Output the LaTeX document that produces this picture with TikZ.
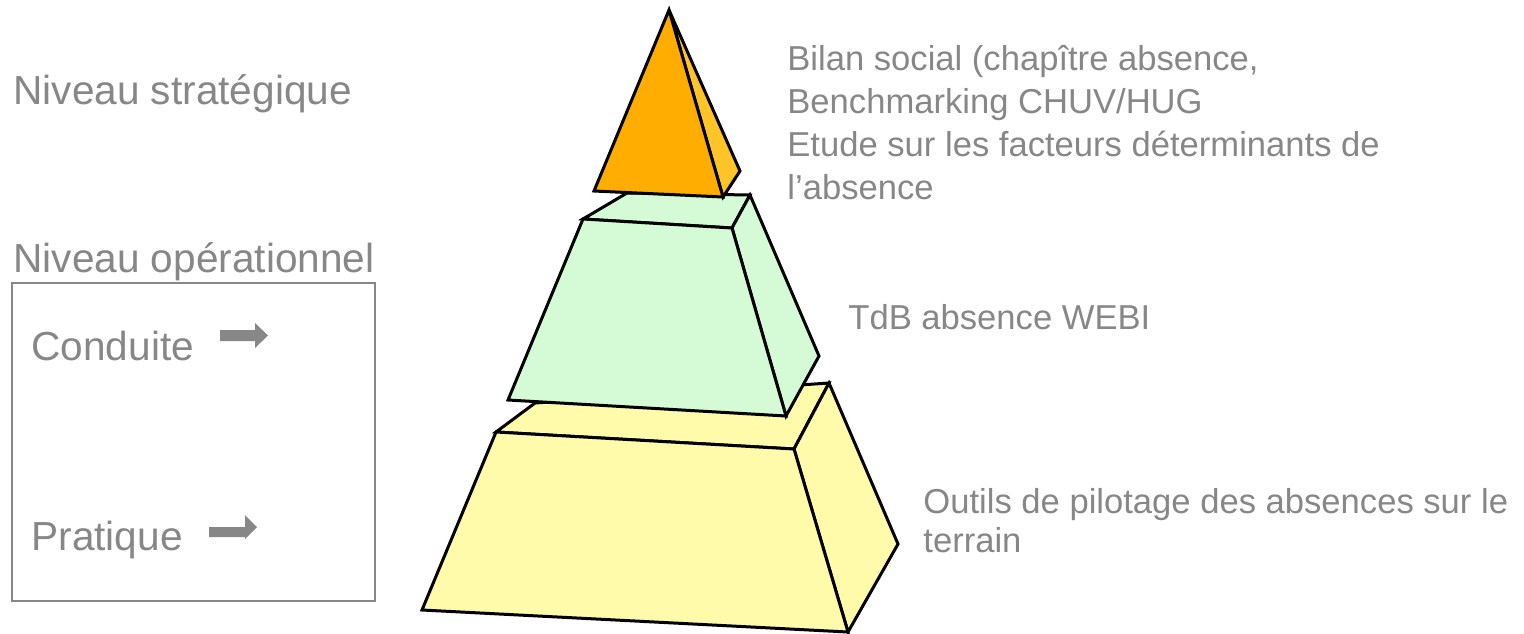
\documentclass[tikz,border=0pt]{standalone}
\usepackage{fontspec}
\setmainfont{Liberation Sans}
\definecolor{txt}{RGB}{135,135,135}
\definecolor{orangeF}{RGB}{255,173,0}
\definecolor{orangeR}{RGB}{255,196,40}
\definecolor{greenF}{RGB}{212,251,214}
\definecolor{yellowF}{RGB}{255,251,170}
\tikzset{
  lbl/.style={anchor=base west, inner sep=0pt, text=txt, font=\fontsize{20.3pt}{24pt}\selectfont},
  rlbl/.style={anchor=base west, inner sep=0pt, text=txt, font=\fontsize{17.3pt}{21pt}\selectfont},
  face/.style={draw=black, line width=1.5pt, line join=miter},
  blockarrow/.style={fill=txt, draw=none},
}
\begin{document}
\begin{tikzpicture}[x=0.5pt, y=-0.5pt]
\useasboundingbox (0,0) rectangle (1524,633);

% bottom frustum (yellow)
\draw[face, fill=yellowF] (496,432) -- (535,403) -- (829,383) -- (794,449) -- cycle;
\draw[face, fill=yellowF] (794,449) -- (829,383) -- (898,544) -- (848,632) -- cycle;
\draw[face, fill=yellowF] (496,432) -- (794,449) -- (848,632) -- (422,610) -- cycle;

% middle frustum (green)
\draw[face, fill=greenF] (583,219) -- (627,193) -- (750,195) -- (732,228) -- cycle;
\draw[face, fill=greenF] (732,228) -- (750,195) -- (819,356) -- (786,416) -- cycle;
\draw[face, fill=greenF] (583,219) -- (732,228) -- (786,416) -- (508,400) -- cycle;

% top pyramid (orange)
\draw[face, fill=orangeR] (669,10) -- (740,171) -- (723,197) -- cycle;
\draw[face, fill=orangeF] (669,10) -- (723,197) -- (594,191) -- cycle;

% left box
\draw[draw=txt, line width=1pt] (12,283) rectangle (375,601);

% block arrows
\fill[blockarrow] (220,330) -- (255,330) -- (255,323) -- (268,335.5) -- (255,348) -- (255,341) -- (220,341) -- cycle;
\fill[blockarrow] (209,527) -- (245,527) -- (245,515) -- (257,527) -- (245,539) -- (245,537) -- (209,537) -- cycle;

% left labels
\node[lbl] (strat) at (13,104) {Niveau stratégique};
\node[lbl] (oper) at (13,272) {Niveau opérationnel};
\node[lbl] (cond) at (31,360) {Conduite};
\node[lbl] (prat) at (31,550) {Pratique};

% right labels
\node[rlbl] (b1) at (787,70) {Bilan social (chapître absence,};
\node[rlbl] (b2) at (787,113) {Benchmarking CHUV/HUG};
\node[rlbl] (b3) at (787,156) {Etude sur les facteurs déterminants de};
\node[rlbl] (b4) at (787,199) {l’absence};
\node[rlbl] (tdb) at (848,329) {TdB absence WEBI};
\node[rlbl] (o1) at (923,513) {Outils de pilotage des absences sur le};
\node[rlbl] (o2) at (923,552) {terrain};
\end{tikzpicture}
\end{document}
